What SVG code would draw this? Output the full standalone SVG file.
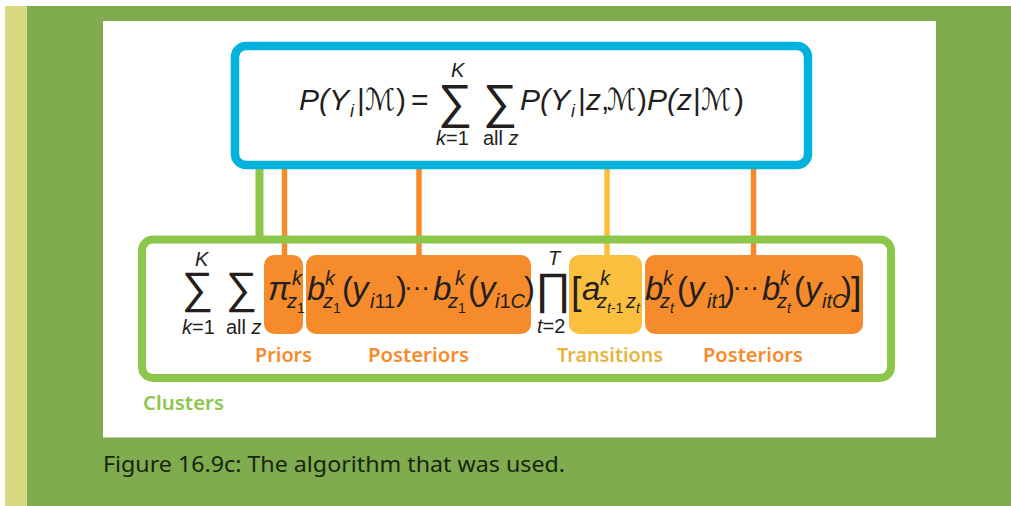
<svg xmlns="http://www.w3.org/2000/svg" width="1011" height="506" viewBox="0 0 1011 506">
<style>
.m{font-family:"Liberation Sans",Arial,sans-serif;font-style:italic;fill:#231f20}
.u{font-style:normal}
.big{font-family:"Liberation Sans",Arial,sans-serif;fill:#231f20}
.cal{font-family:"DejaVu Sans",sans-serif;font-style:normal}
.lbl{font-family:"Noto Sans","Open Sans",sans-serif;font-weight:600;font-size:20px}
</style>
<rect x="0" y="0" width="1011" height="506" fill="#ffffff"/>
<rect x="5" y="6" width="1006" height="500" fill="#80ab4f"/>
<rect x="5" y="6" width="22" height="500" fill="#d9d982"/>
<rect x="103" y="21" width="833" height="416.5" fill="#ffffff"/>

<g id="connectors">
<line x1="259.5" y1="165" x2="259.5" y2="240" stroke="#8cc64b" stroke-width="8"/>
<line x1="284.5" y1="168" x2="284.5" y2="258" stroke="#f68b2b" stroke-width="5.5"/>
<line x1="419" y1="168" x2="419" y2="258" stroke="#f68b2b" stroke-width="5.5"/>
<line x1="607" y1="168" x2="607" y2="258" stroke="#fbbf40" stroke-width="5.5"/>
<line x1="753.5" y1="168" x2="753.5" y2="258" stroke="#f68b2b" stroke-width="5.5"/>
</g>

<g id="model">
<rect x="235" y="46" width="573" height="119" rx="11" fill="#ffffff" stroke="#00b2dc" stroke-width="8.5"/>
<text class="m" font-size="30">
<tspan x="299" y="110">P(Y</tspan><tspan x="350" y="117" font-size="18">i</tspan><tspan x="357" y="110" class="u">|</tspan><tspan x="365" y="110" class="cal" textLength="30" lengthAdjust="spacingAndGlyphs">ℳ</tspan><tspan x="396" y="110" class="u">)</tspan><tspan x="411" y="110" class="u">=</tspan>
<tspan x="451" y="77" font-size="20">K</tspan>
<tspan x="436" y="145" font-size="20">k</tspan><tspan y="145" font-size="20" class="u">=1</tspan>
<tspan x="483" y="145" font-size="20" class="u">all </tspan><tspan y="145" font-size="20">z</tspan>
<tspan x="520" y="110">P(Y</tspan><tspan x="571" y="117" font-size="18">i</tspan><tspan x="578" y="110" class="u">|</tspan><tspan x="586" y="110">z</tspan><tspan x="601" y="110" class="u">,</tspan><tspan x="607" y="110" class="cal" textLength="29" lengthAdjust="spacingAndGlyphs">ℳ</tspan><tspan x="637" y="110" class="u">)</tspan><tspan x="647" y="110">P(z</tspan><tspan x="693" y="110" class="u">|</tspan><tspan x="701" y="110" class="cal" textLength="30" lengthAdjust="spacingAndGlyphs">ℳ</tspan><tspan x="734" y="110" class="u">)</tspan>
</text>
<text class="big" font-size="48"><tspan x="438" y="118">∑</tspan><tspan x="483" y="118">∑</tspan></text>
</g>

<g id="clusters">
<rect x="142" y="239.5" width="749" height="138.5" rx="11" fill="none" stroke="#8cc64b" stroke-width="8"/>
<text class="big" font-size="44"><tspan x="182" y="303">∑</tspan><tspan x="226" y="303">∑</tspan></text>
<text class="m" font-size="20">
<tspan x="195" y="266">K</tspan>
<tspan x="182" y="334">k</tspan><tspan y="334" class="u">=1</tspan>
<tspan x="226" y="334" class="u">all </tspan><tspan y="334">z</tspan>
</text>
<text class="lbl" x="143" y="410" fill="#8cc64b" textLength="81" lengthAdjust="spacingAndGlyphs">Clusters</text>
</g>

<g id="priors">
<rect x="264" y="255" width="39" height="79" rx="10" fill="#f68b2b"/>
<text class="m" font-size="33"><tspan x="268" y="300">π</tspan><tspan x="292" y="285" font-size="20">k</tspan><tspan x="287" y="308" font-size="20">z</tspan><tspan x="297" y="313" font-size="14" class="u">1</tspan></text>
<text class="lbl" x="255" y="362" fill="#f68b2b" textLength="57" lengthAdjust="spacingAndGlyphs">Priors</text>
</g>

<g id="posteriors1">
<rect x="306" y="255" width="225" height="79" rx="10" fill="#f68b2b"/>
<text class="m" font-size="33">
<tspan x="307" y="300">b</tspan><tspan x="325" y="285" font-size="20">k</tspan><tspan x="323" y="308" font-size="20">z</tspan><tspan x="333" y="313" font-size="14" class="u">1</tspan>
<tspan x="342" y="300" class="u">(</tspan><tspan x="352" y="300">y</tspan><tspan x="370" y="308" font-size="20">i</tspan><tspan y="308" font-size="20" class="u">11</tspan><tspan x="396" y="300" class="u">)</tspan>
<tspan x="404" y="296" class="u" font-size="26">···</tspan>
<tspan x="433" y="300">b</tspan><tspan x="455" y="285" font-size="20">k</tspan><tspan x="448" y="308" font-size="20">z</tspan><tspan x="458" y="313" font-size="14" class="u">1</tspan>
<tspan x="468" y="300" class="u">(</tspan><tspan x="479" y="300">y</tspan><tspan x="495" y="308" font-size="20">i</tspan><tspan y="308" font-size="20" class="u">1</tspan><tspan y="308" font-size="20">C</tspan><tspan x="524" y="300" class="u">)</tspan>
</text>
<text class="lbl" x="368" y="362" fill="#f68b2b" textLength="101" lengthAdjust="spacingAndGlyphs">Posteriors</text>
</g>

<text class="big" font-size="44"><tspan x="535" y="304">∏</tspan></text>
<text class="m" font-size="20"><tspan x="548" y="265">T</tspan><tspan x="537" y="333">t</tspan><tspan y="333" class="u">=2</tspan></text>

<g id="transitions">
<rect x="569" y="255" width="73" height="79" rx="10" fill="#fbbf40"/>
<text class="m" font-size="33">
<tspan x="571" y="304" class="u" font-size="38">[</tspan>
<tspan x="582" y="300">a</tspan><tspan x="600" y="285" font-size="20">k</tspan><tspan x="597" y="308" font-size="20">z</tspan><tspan x="607" y="313" font-size="14">t</tspan><tspan y="313" font-size="14" class="u">-1</tspan><tspan x="626" y="308" font-size="20">z</tspan><tspan x="636" y="313" font-size="14">t</tspan>
</text>
<text class="lbl" x="557" y="362" fill="#e6b43f" textLength="106" lengthAdjust="spacingAndGlyphs">Transitions</text>
</g>

<g id="posteriors2">
<rect x="645" y="255" width="218" height="79" rx="10" fill="#f68b2b"/>
<text class="m" font-size="33">
<tspan x="645" y="300">b</tspan><tspan x="663" y="285" font-size="20">k</tspan><tspan x="660" y="308" font-size="20">z</tspan><tspan x="670" y="313" font-size="14">t</tspan>
<tspan x="677" y="300" class="u">(</tspan><tspan x="688" y="300">y</tspan><tspan x="707" y="308" font-size="20">it</tspan><tspan y="308" font-size="20" class="u">1</tspan><tspan x="724" y="300" class="u">)</tspan>
<tspan x="733" y="296" class="u" font-size="26">···</tspan>
<tspan x="762" y="300">b</tspan><tspan x="780" y="285" font-size="20">k</tspan><tspan x="777" y="308" font-size="20">z</tspan><tspan x="787" y="313" font-size="14">t</tspan>
<tspan x="794" y="300" class="u">(</tspan><tspan x="805" y="300">y</tspan><tspan x="822" y="308" font-size="20">itC</tspan><tspan x="841" y="300" class="u">)</tspan>
<tspan x="851" y="304" class="u" font-size="38">]</tspan>
</text>
<text class="lbl" x="703" y="362" fill="#f68b2b" textLength="100" lengthAdjust="spacingAndGlyphs">Posteriors</text>
</g>

<text x="103" y="472" font-family="'Noto Sans','Open Sans',sans-serif" font-size="22" fill="#16260e" textLength="462" lengthAdjust="spacingAndGlyphs">Figure 16.9c: The algorithm that was used.</text>
</svg>
